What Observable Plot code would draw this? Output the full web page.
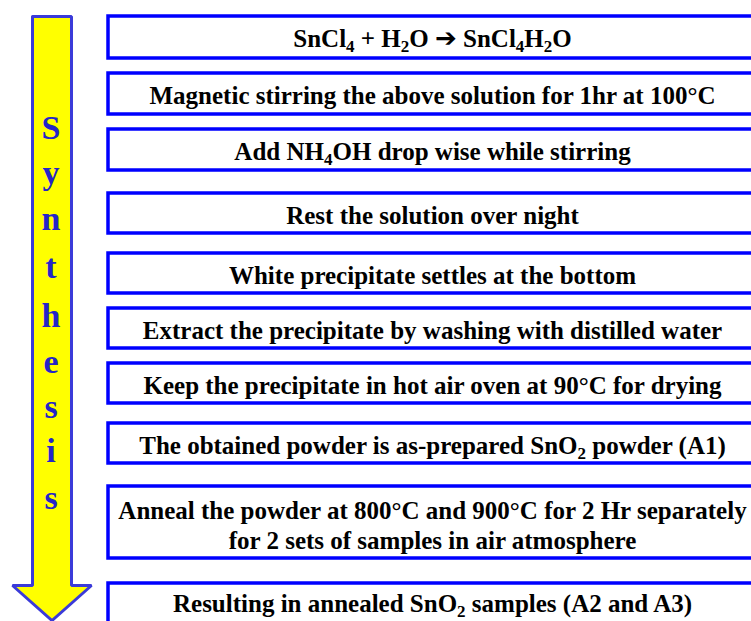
<!DOCTYPE html>
<html><head><meta charset="utf-8">
<script src="https://cdn.jsdelivr.net/npm/d3@7"></script>
<script src="https://cdn.jsdelivr.net/npm/@observablehq/plot@0.6"></script>
<style>body{margin:0;background:#fff}#chart svg{display:block}</style>
</head><body><div id="chart"></div>
<script>
// Flowchart steps ({n} marks a subscript)
const steps = [
  "SnCl{4} + H{2}O \u2192 SnCl{4}H{2}O",
  "Magnetic stirring the above solution for 1hr at 100\u00B0C",
  "Add NH{4}OH drop wise while stirring",
  "Rest the solution over night",
  "White precipitate settles at the bottom",
  "Extract the precipitate by washing with distilled water",
  "Keep the precipitate in hot air oven at 90\u00B0C for drying",
  "The obtained powder is as-prepared SnO{2} powder (A1)",
  "Anneal the powder at 800\u00B0C and 900\u00B0C for 2 Hr separately\nfor 2 sets of samples in air atmosphere",
  "Resulting in annealed SnO{2} samples (A2 and A3)"
];
const word = "Synthesis".split("");

// Layout (pixel frame of the 751x621 picture)
const boxTop    = [16, 73, 129, 193, 253, 308, 363, 423, 486, 583];
const boxBottom = [58, 114, 170, 233, 293, 348, 403, 463, 558, 624];
const boxLeft = 108, boxRight = 758;
const letterY = [128, 173, 219, 267, 316, 362, 407, 451, 498];
const arrowGeom = {x1: 32, x2: 71, top: 16, headY: 585, hx1: 12, hx2: 91, tip: 620};

const boxes = steps.map((t, i) => ({t, y1: boxTop[i], y2: boxBottom[i], x1: boxLeft, x2: boxRight, xc: 432,
  yc: i === 8 ? (boxTop[i] + boxBottom[i]) / 2 + 2 : boxTop[i] + (i === 9 ? 19 : 21)}));
const letters = word.map((c, i) => ({c, x: (arrowGeom.x1 + arrowGeom.x2) / 2 - 1, y: letterY[i]}));
const a = arrowGeom, mid = (a.x1 + a.x2) / 2;
const arrowPts = [
  [a.x1, a.top], [a.x2, a.top], [a.x2, a.headY], [a.hx2, a.headY], [mid, a.tip],
  [a.hx1, a.headY], [a.x1, a.headY], [a.x1, a.top]
].map(([x, y]) => ({x, y}));

const plot = Plot.plot({
  width: 751, height: 621,
  margin: 0,
  x: {domain: [0, 751], range: [0, 751], axis: null},
  y: {domain: [0, 621], range: [0, 621], axis: null},
  style: {background: "#fff"},
  marks: [
    Plot.line(arrowPts, {x: "x", y: "y", fill: "#ffff00", stroke: "#3b3bd9", strokeWidth: 3, strokeLinejoin: "miter", curve: "linear"}),
    Plot.text(letters, {x: "x", y: "y", text: "c", fill: "#2525c8", fontSize: 34, fontWeight: "bold", fontFamily: "Liberation Serif", textAnchor: "middle", lineAnchor: "middle"}),
    Plot.rect(boxes, {x1: "x1", x2: "x2", y1: "y1", y2: "y2", fill: "#fff", stroke: "#0000ff", strokeWidth: 3.5}),
    Plot.text(boxes, {x: "xc", y: "yc", text: "t", fill: "#000", fontSize: 25, fontWeight: "bold", fontFamily: "Liberation Serif", textAnchor: "middle", lineAnchor: "middle", lineHeight: 1.2})
  ]
});

// render {n} as subscripts and the arrow as a heavy glyph
function subscript(el) {
  const s = el.textContent;
  if (!s.includes("{") && !s.includes("\u2192")) return;
  while (el.firstChild) el.removeChild(el.firstChild);
  const parts = s.split(/(\{\d+\}|\u2192)/).filter(p => p.length);
  let lowered = false;
  const ns = "http://www.w3.org/2000/svg";
  for (const p of parts) {
    const ts = document.createElementNS(ns, "tspan");
    const m = p.match(/^\{(\d+)\}$/);
    if (m) {
      ts.textContent = m[1];
      ts.setAttribute("font-size", "17");
      if (!lowered) { ts.setAttribute("dy", "5"); lowered = true; }
    } else {
      ts.textContent = p === "\u2192" ? "\u2794" : p;
      if (p === "\u2192") { ts.setAttribute("font-family", "DejaVu Sans"); ts.setAttribute("font-size", "26"); }
      if (lowered) { ts.setAttribute("dy", "-5"); lowered = false; }
    }
    el.appendChild(ts);
  }
}
plot.querySelectorAll("text").forEach(t => {
  const kids = t.querySelectorAll("tspan");
  if (kids.length) kids.forEach(subscript); else subscript(t);
});
document.getElementById("chart").appendChild(plot);
</script>
</body></html>
